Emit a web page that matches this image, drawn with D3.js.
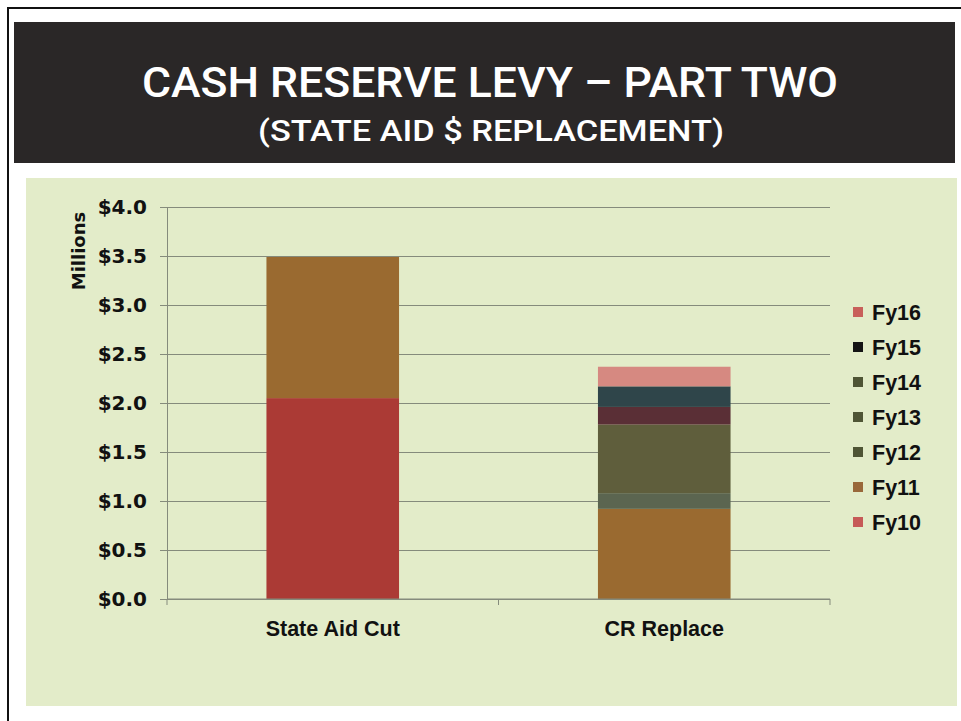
<!DOCTYPE html>
<html>
<head>
<meta charset="utf-8">
<script src="https://cdn.jsdelivr.net/npm/d3@7"></script>
<style>
  html, body { margin: 0; padding: 0; background: #ffffff; }
  svg { display: block; }
</style>
</head>
<body>
<svg id="chart" width="961" height="721"></svg>
<script>
// Categories and stacked series (millions of dollars)
const categories = ["State Aid Cut", "CR Replace"];
const seriesNames = ["Fy10", "Fy11", "Fy12", "Fy13", "Fy14", "Fy15", "Fy16"];
const fy10 = [2.05, 0];
const fy11 = [1.44, 0.92];
const fy12 = [0, 0.16];
const fy13 = [0, 0.70];
const fy14 = [0, 0.18];
const fy15 = [0, 0.21];
const fy16 = [0, 0.20];
const yTicks = [0, 0.5, 1.0, 1.5, 2.0, 2.5, 3.0, 3.5, 4.0];

// Fill colours for the bar segments and for the legend keys
const barColors = ["#ab3a35", "#9a6a30", "#5b6550", "#5f5e3c", "#5a2f36", "#2f454a", "#d68981"];
const swatchColors = ["#c65a57", "#99683a", "#4f5535", "#4f5535", "#4f5535", "#141414", "#c8605a"];

const seriesValues = [fy10, fy11, fy12, fy13, fy14, fy15, fy16];
const table = categories.map((c, i) => {
  const row = { category: c };
  seriesNames.forEach((s, j) => { row[s] = seriesValues[j][i]; });
  return row;
});

const svg = d3.select("#chart");

// Page frame
svg.append("rect").attr("x", 0).attr("y", 0).attr("width", 961).attr("height", 721).attr("fill", "#ffffff");
svg.append("rect").attr("x", 8).attr("y", 8).attr("width", 980).attr("height", 760)
  .attr("fill", "none").attr("stroke", "#111").attr("stroke-width", 2);

// Title banner
const titleFont = "Roboto, 'Open Sans', sans-serif";
svg.append("rect").attr("x", 14).attr("y", 22).attr("width", 941).attr("height", 141).attr("fill", "#2a2727");
svg.append("text")
  .attr("x", 490).attr("y", 97)
  .attr("text-anchor", "middle")
  .attr("font-family", titleFont)
  .attr("font-weight", 500)
  .attr("font-size", 42)
  .attr("fill", "#ffffff")
  .attr("textLength", 696).attr("lengthAdjust", "spacingAndGlyphs")
  .text("CASH RESERVE LEVY – PART TWO");
svg.append("text")
  .attr("x", 491).attr("y", 141)
  .attr("text-anchor", "middle")
  .attr("font-family", titleFont)
  .attr("font-weight", 500)
  .attr("font-size", 29)
  .attr("fill", "#ffffff")
  .attr("textLength", 466).attr("lengthAdjust", "spacingAndGlyphs")
  .text("(STATE AID $ REPLACEMENT)");

// Chart panel
svg.append("rect").attr("x", 26).attr("y", 178).attr("width", 931).attr("height", 528).attr("fill", "#e3ecc9");

const plot = { left: 167, right: 830, top: 207, bottom: 599 };

const x = d3.scaleBand()
  .domain(categories)
  .range([plot.left, plot.right])
  .paddingInner(0.6)
  .paddingOuter(0.3);

const y = d3.scaleLinear().domain([0, 4]).range([plot.bottom, plot.top]);

// Horizontal gridlines
svg.append("g")
  .attr("transform", `translate(${plot.left},0)`)
  .call(d3.axisRight(y).tickValues(yTicks).tickSize(plot.right - plot.left).tickFormat(""))
  .call(g => g.select(".domain").remove())
  .call(g => g.selectAll("line").attr("stroke", "#858b7c").attr("stroke-width", 1));

// Y axis
const fontBold = "'Liberation Sans', Arial, sans-serif";
const fontHeavy = "'DejaVu Sans', sans-serif";
svg.append("g")
  .attr("transform", `translate(${plot.left},0)`)
  .call(d3.axisLeft(y).tickValues(yTicks).tickSize(7).tickPadding(13).tickFormat(d => "$" + d.toFixed(1)))
  .call(g => g.select(".domain").attr("stroke", "#858b7c"))
  .call(g => g.selectAll("line").attr("stroke", "#858b7c"))
  .call(g => g.selectAll("text")
    .attr("font-family", fontHeavy).attr("font-weight", "bold")
    .attr("font-size", 20).attr("fill", "#111"));

svg.append("text")
  .attr("transform", "translate(85,251) rotate(-90)")
  .attr("text-anchor", "middle")
  .attr("font-family", fontHeavy).attr("font-weight", "bold")
  .attr("font-size", 18).attr("fill", "#111")
  .text("Millions");

// Stacked bars
const stacked = d3.stack().keys(seriesNames)(table);
svg.append("g").selectAll("g")
  .data(stacked)
  .join("g")
  .attr("fill", (d, i) => barColors[i])
  .selectAll("rect")
  .data(d => d)
  .join("rect")
  .attr("x", d => x(d.data.category))
  .attr("width", x.bandwidth())
  .attr("y", d => y(d[1]))
  .attr("height", d => y(d[0]) - y(d[1]));

// X axis line with category boundary ticks
const step = x.step();
const boundaries = [plot.left, plot.left + step, plot.right];
const xAxis = svg.append("g");
xAxis.append("line")
  .attr("x1", plot.left).attr("x2", plot.right)
  .attr("y1", y(0)).attr("y2", y(0))
  .attr("stroke", "#858b7c");
xAxis.selectAll("line.tick")
  .data(boundaries)
  .join("line")
  .attr("class", "tick")
  .attr("x1", d => d).attr("x2", d => d)
  .attr("y1", y(0)).attr("y2", y(0) + 6)
  .attr("stroke", "#858b7c");
xAxis.selectAll("text")
  .data(categories)
  .join("text")
  .attr("x", d => x(d) + x.bandwidth() / 2)
  .attr("y", 636)
  .attr("text-anchor", "middle")
  .attr("font-family", fontBold).attr("font-weight", "bold")
  .attr("font-size", 21.5).attr("fill", "#111")
  .text(d => d);

// Legend, newest year on top
const legendOrder = seriesNames.map((s, i) => ({ name: s, color: swatchColors[i] })).reverse();
const legend = svg.append("g").attr("transform", "translate(853,312)");
const item = legend.selectAll("g")
  .data(legendOrder)
  .join("g")
  .attr("transform", (d, i) => `translate(0,${i * 35})`);
item.append("rect")
  .attr("x", 0).attr("y", -5).attr("width", 10).attr("height", 10)
  .attr("fill", d => d.color);
item.append("text")
  .attr("x", 19).attr("y", 7.5)
  .attr("font-family", fontBold).attr("font-weight", "bold")
  .attr("font-size", 21.5).attr("fill", "#111")
  .text(d => d.name);
</script>
</body>
</html>
